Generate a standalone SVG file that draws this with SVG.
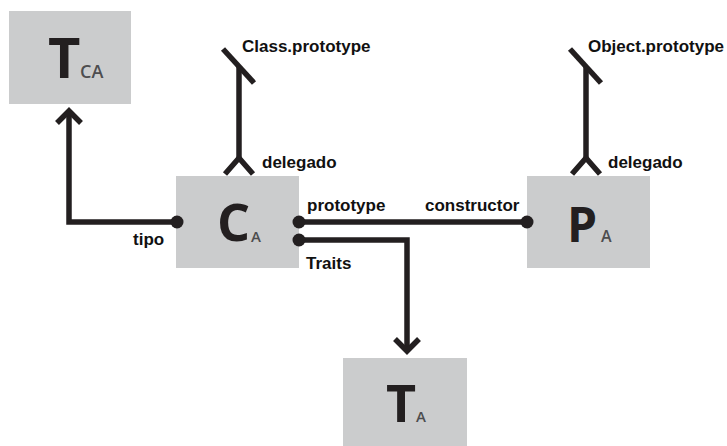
<svg xmlns="http://www.w3.org/2000/svg" width="727" height="446" viewBox="0 0 727 446">
<style>
.box{fill:#cbcccd}
.big{font-family:"Open Sans","DejaVu Sans",sans-serif;font-weight:700;fill:#231f20}
.sub{font-family:"Open Sans","DejaVu Sans",sans-serif;font-weight:600;fill:#4d4d4f}
.lbl{font-family:"Liberation Sans",Arial,sans-serif;font-weight:bold;font-size:17px;fill:#111}
.ln{fill:none;stroke:#231f20;stroke-width:5.5;stroke-linejoin:miter}
.dot{fill:#231f20}
</style>
<defs>
<marker id="arrow" markerUnits="userSpaceOnUse" viewBox="-20 -20 40 40" markerWidth="40" markerHeight="40" refX="0" refY="0" orient="auto" overflow="visible">
<path d="M-12,-12 L0,0 L-12,12" fill="none" stroke="#231f20" stroke-width="5.5"/>
</marker>
<marker id="fork" markerUnits="userSpaceOnUse" viewBox="-20 -20 40 40" markerWidth="40" markerHeight="40" refX="0" refY="0" orient="auto" overflow="visible">
<path d="M-16,-14 L0,0 L-16,14" fill="none" stroke="#231f20" stroke-width="5.5" stroke-linejoin="round"/>
</marker>
<marker id="slash" markerUnits="userSpaceOnUse" viewBox="-20 -20 40 40" markerWidth="40" markerHeight="40" refX="0" refY="0" orient="auto" overflow="visible">
<path d="M18,-16 L-16,15" fill="none" stroke="#231f20" stroke-width="5.5"/>
</marker>
</defs>
<g id="node-TCA">
<rect class="box" x="9" y="11" width="122" height="93"/>
<text class="big" x="48" y="78" font-size="56">T</text>
<text class="sub" x="80" y="78" font-size="18">CA</text>
</g>
<g id="node-CA">
<rect class="box" x="176" y="176" width="123" height="92"/>
<text class="big" x="217" y="241" font-size="52">C</text>
<text class="sub" x="251" y="242" font-size="15">A</text>
</g>
<g id="node-PA">
<rect class="box" x="527" y="176" width="123" height="92"/>
<text class="big" x="567" y="242" font-size="48">P</text>
<text class="sub" x="601" y="242" font-size="16">A</text>
</g>
<g id="node-TA">
<rect class="box" x="343" y="358" width="124" height="90"/>
<text class="big" x="386" y="422" font-size="52">T</text>
<text class="sub" x="416" y="422" font-size="15">A</text>
</g>
<g id="connectors">
<path class="ln" d="M177,222 H69 V111" marker-end="url(#arrow)"/>
<circle class="dot" cx="177" cy="222" r="6.5"/>
<path class="ln" d="M299,222 H527"/>
<circle class="dot" cx="299" cy="222" r="6.5"/>
<circle class="dot" cx="527" cy="222" r="6.5"/>
<path class="ln" d="M299,240 H407 V351" marker-end="url(#arrow)"/>
<circle class="dot" cx="299" cy="240" r="6.5"/>
<path class="ln" d="M239,158 V67" marker-start="url(#fork)" marker-end="url(#slash)"/>
<path class="ln" d="M586,158 V67" marker-start="url(#fork)" marker-end="url(#slash)"/>
</g>
<g id="labels">
<text class="lbl" x="242" y="52">Class.prototype</text>
<text class="lbl" x="588" y="52">Object.prototype</text>
<text class="lbl" x="262" y="168">delegado</text>
<text class="lbl" x="608" y="168">delegado</text>
<text class="lbl" x="307" y="211">prototype</text>
<text class="lbl" x="425" y="211">constructor</text>
<text class="lbl" x="306" y="269">Traits</text>
<text class="lbl" x="133" y="245">tipo</text>
</g>
</svg>
